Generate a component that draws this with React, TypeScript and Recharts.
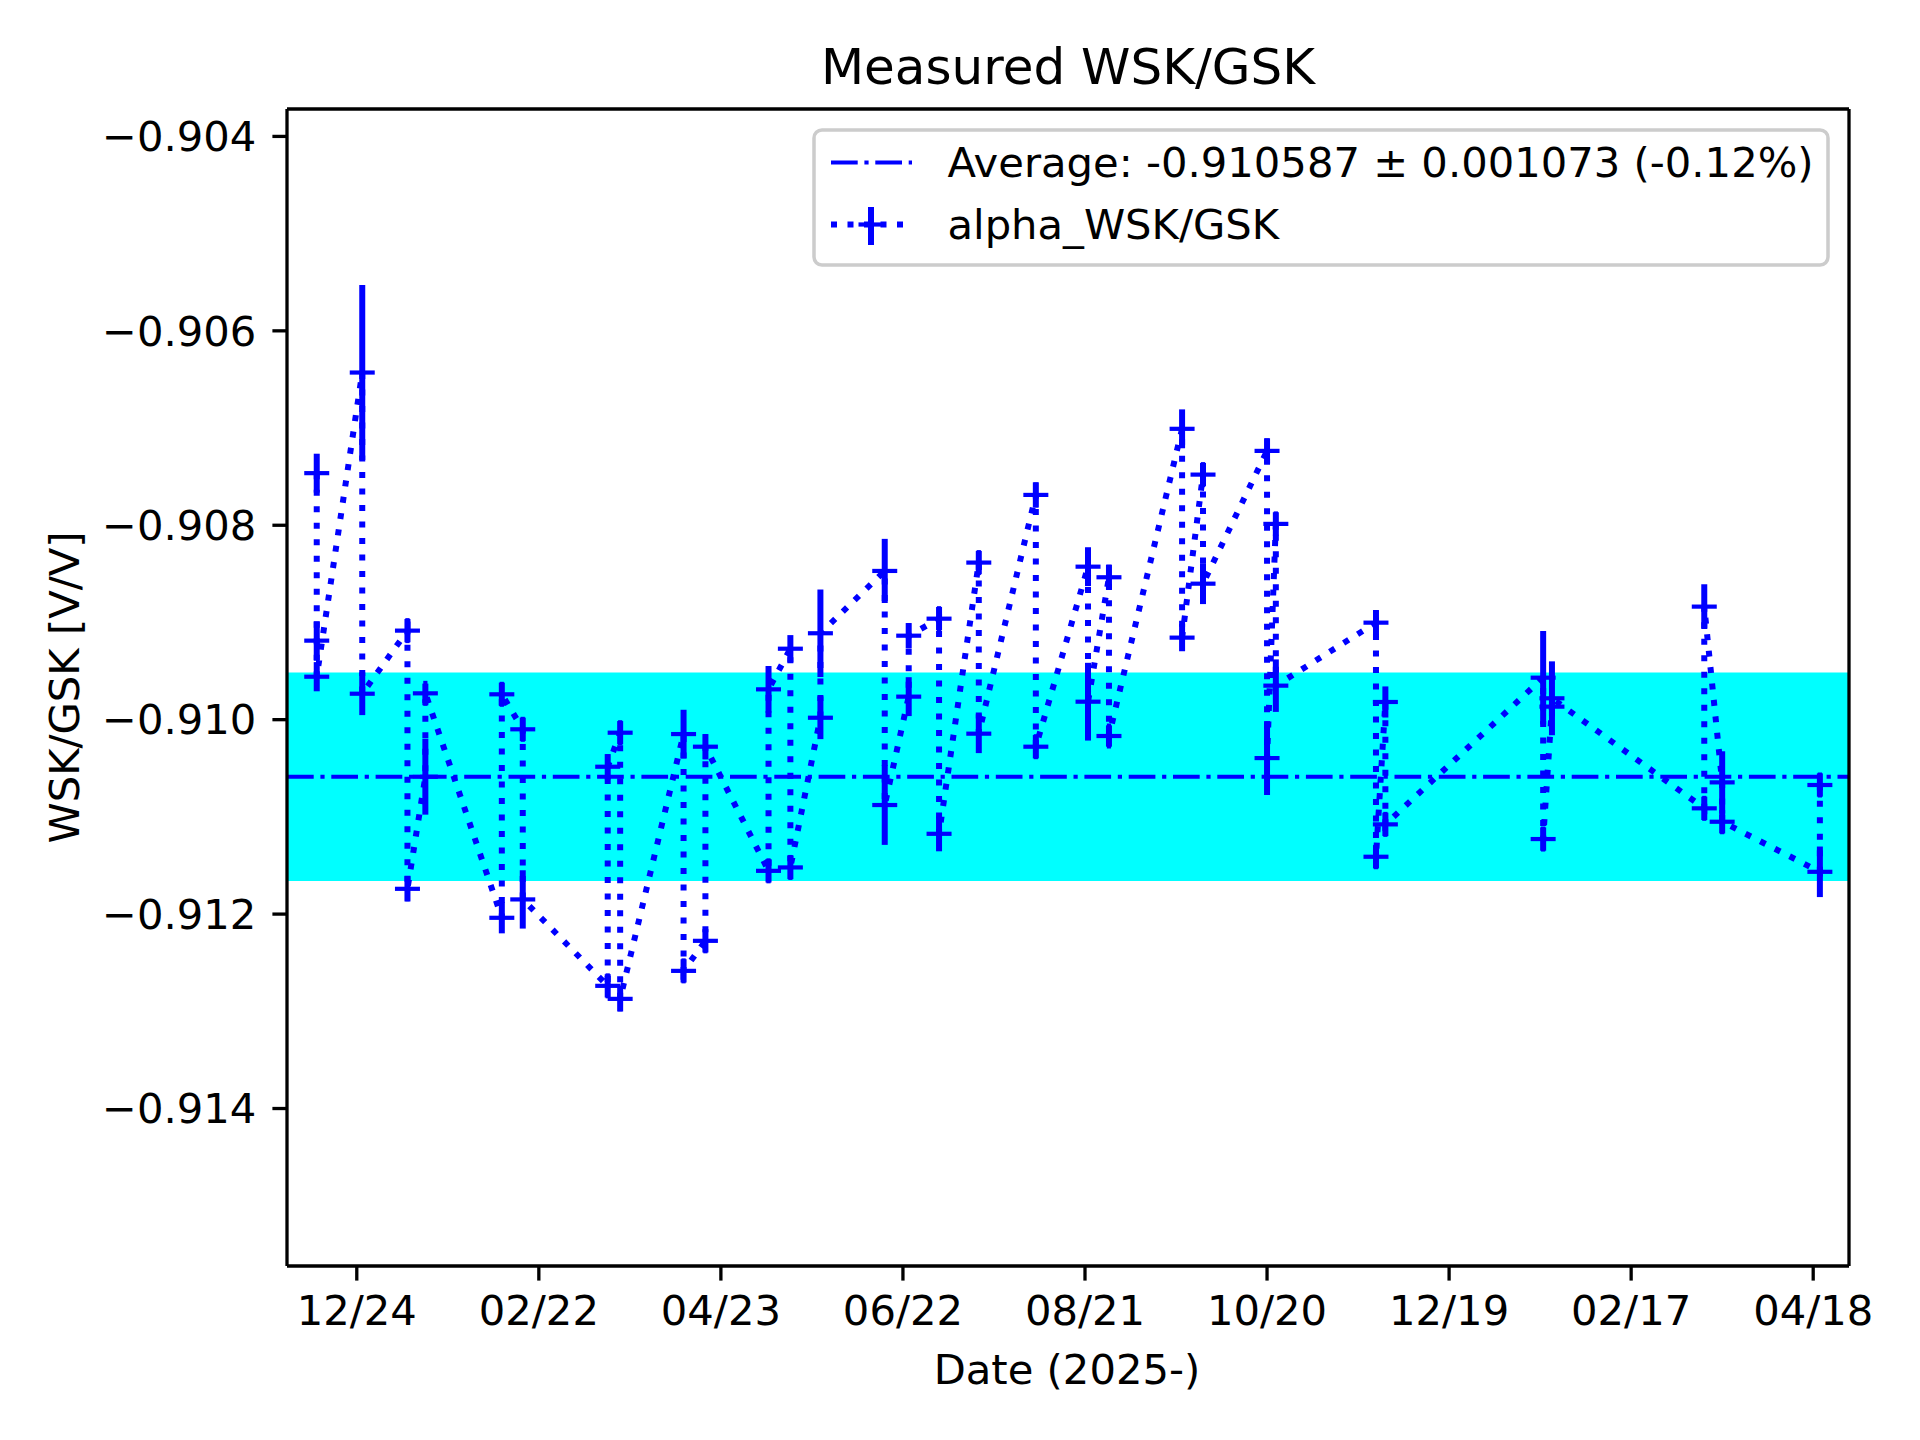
import React from "react";
import {
  ComposedChart,
  ErrorBar,
  Line,
  ReferenceArea,
  ReferenceLine,
  XAxis,
  YAxis,
} from "recharts";

// measurement order as plotted (days counted from 12/24)
const measDay = [
  -13.2, -13.2, -13.2, 1.8, 1.8, 16.7, 16.7, 22.6, 22.6, 47.8, 47.8, 54.7, 54.7,
  82.7, 82.7, 86.8, 86.8, 107.7, 107.7, 114.9, 114.9, 135.7, 135.7, 142.9, 142.9,
  152.8, 152.8, 174.0, 174.0, 181.9, 181.9, 191.9, 191.9, 205.0, 205.0, 223.8,
  223.8, 241.0, 241.0, 247.9, 247.9, 272.0, 272.0, 278.9, 278.9, 300.0, 300.0,
  302.9, 302.9, 335.9, 335.9, 339.0, 339.0, 391.0, 391.0, 393.9, 393.9, 444.1,
  444.1, 450.0, 450.0, 482.2, 482.2,
];

const measValue = [
  -0.907464, -0.909187, -0.909558, -0.906429, -0.909733, -0.909084, -0.91174,
  -0.910587, -0.909729, -0.912038, -0.909739, -0.910099, -0.911849, -0.912738,
  -0.910484, -0.910134, -0.912872, -0.910148, -0.912584, -0.912275, -0.910278,
  -0.911555, -0.909688, -0.90927, -0.91152, -0.90998, -0.909111, -0.90847,
  -0.910878, -0.909763, -0.909136, -0.908961, -0.911174, -0.908384, -0.910144,
  -0.907688, -0.910278, -0.908426, -0.909815, -0.908535, -0.910168, -0.907008,
  -0.909156, -0.907479, -0.908601, -0.907235, -0.910395, -0.907986, -0.90965,
  -0.909002, -0.91141, -0.909818, -0.911077, -0.909568, -0.911228, -0.909866,
  -0.90978, -0.910912, -0.908837, -0.910645, -0.91105, -0.911565, -0.910672,
];

const measError = [
  0.0002, 0.0002, 0.00015, 0.0009, 0.00022, 0.00012, 0.00013, 0.00039, 0.0001,
  0.00016, 0.00012, 0.00012, 0.0003, 0.00012, 0.00013, 0.00012, 0.00013, 0.00025,
  0.00012, 0.00012, 0.00013, 0.00012, 0.00024, 0.00014, 0.00012, 0.00022, 0.00045,
  0.00033, 0.00041, 0.0002, 0.00013, 0.00012, 0.00018, 0.00012, 0.0002, 0.00013,
  0.00012, 0.0002, 0.0004, 0.00013, 0.00011, 0.0002, 0.00014, 0.00012, 0.00021,
  0.00013, 0.00038, 0.00012, 0.00027, 0.00013, 0.00012, 0.00016, 0.00012, 0.00048,
  0.00012, 0.0001, 0.00038, 0.00012, 0.00023, 0.00032, 0.00012, 0.00026, 0.00012,
];

const AVERAGE = -0.910587;
const STD = 0.001073;

const tickDays = [0, 60, 120, 180, 240, 300, 360, 420, 480];
const tickLabels = ["12/24", "02/22", "04/23", "06/22", "08/21", "10/20", "12/19", "02/17", "04/18"];
const yTicks = [-0.914, -0.912, -0.91, -0.908, -0.906, -0.904];

const X_DOMAIN: [number, number] = [-23, 491.8];
const Y_DOMAIN: [number, number] = [-0.91562, -0.903718];

const BLUE = "#0000ff";
const FONT = "DejaVu Sans";
const FS = 41.7;

const data = measDay.map((day, i) => ({ day, val: measValue[i], err: measError[i] }));

const PlusDot = (props: any) => {
  const { cx, cy, index } = props;
  if (cx == null || cy == null) return <g key={`d${index}`} />;
  return (
    <g key={`d${index}`}>
      <line x1={cx - 12.5} x2={cx + 12.5} y1={cy} y2={cy} stroke={BLUE} strokeWidth={4.2} strokeDasharray="none" />
      <line x1={cx} x2={cx} y1={cy - 12.5} y2={cy + 12.5} stroke={BLUE} strokeWidth={4.2} strokeDasharray="none" />
    </g>
  );
};

const tickStyle = { fontFamily: FONT, fontSize: FS, fill: "#000" };
const axisStroke = { stroke: "#000", strokeWidth: 3.3 };

function Overlay() {
  return (
    <svg
      width={1920}
      height={1440}
      style={{ position: "absolute", left: 0, top: 0, pointerEvents: "none" }}
    >
      <text x={1068} y={83.5} textAnchor="middle" fontFamily={FONT} fontSize={50}>
        Measured WSK/GSK
      </text>
      <text x={1067} y={1383.5} textAnchor="middle" fontFamily={FONT} fontSize={FS}>
        Date (2025-)
      </text>
      <text
        x={0}
        y={0}
        transform="translate(79 687.5) rotate(-90)"
        textAnchor="middle"
        fontFamily={FONT}
        fontSize={FS}
      >
        WSK/GSK [V/V]
      </text>

      <rect x={814} y={130} width={1014} height={135} rx={8} fill="#fff" fillOpacity={0.8} stroke="#cccccc" strokeWidth={3.5} />
      <line x1={831} x2={912} y1={162.5} y2={162.5} stroke={BLUE} strokeWidth={4.2} strokeDasharray="26.7 6.7 4.2 6.7" />
      <text x={947.5} y={176.5} fontFamily={FONT} fontSize={FS}>
        Average: -0.910587 ± 0.001073 (-0.12%)
      </text>
      <line x1={831} x2={912} y1={224.5} y2={224.5} stroke={BLUE} strokeWidth={6} strokeDasharray="6 10.5" />
      <line x1={871} x2={871} y1={207} y2={245} stroke={BLUE} strokeWidth={6} />
      <line x1={858.5} x2={883.5} y1={224.5} y2={224.5} stroke={BLUE} strokeWidth={4.2} />
      <text x={947.5} y={238.5} fontFamily={FONT} fontSize={FS}>
        alpha_WSK/GSK
      </text>
    </svg>
  );
}

export default function App() {
  return (
    <div style={{ position: "relative", width: 1920, height: 1440, background: "#fff" }}>
      <style>{"body{margin:0}"}</style>
      <ComposedChart
        width={1920}
        height={1440}
        data={data}
        margin={{ top: 109, right: 71, bottom: 0, left: 0 }}
      >
        <XAxis
          dataKey="day"
          type="number"
          domain={X_DOMAIN}
          allowDataOverflow
          ticks={tickDays}
          interval={0}
          tickFormatter={(v: number) => tickLabels[tickDays.indexOf(v)] ?? ""}
          height={174}
          tickSize={14.6}
          tickMargin={14.4}
          tick={tickStyle}
          tickLine={axisStroke}
          axisLine={axisStroke}
        />
        <YAxis
          type="number"
          domain={Y_DOMAIN}
          allowDataOverflow
          ticks={yTicks}
          interval={0}
          tickFormatter={(v: number) => "\u2212" + Math.abs(v).toFixed(3)}
          width={287}
          tickSize={14.6}
          tickMargin={16}
          tick={tickStyle}
          tickLine={axisStroke}
          axisLine={axisStroke}
        />
        <ReferenceArea
          y1={AVERAGE - STD}
          y2={AVERAGE + STD}
          fill="#00ffff"
          fillOpacity={1}
          stroke="none"
        />
        <ReferenceLine
          y={AVERAGE}
          stroke={BLUE}
          strokeWidth={4.2}
          strokeDasharray="26.7 6.7 4.2 6.7"
        />
        <Line
          dataKey="val"
          type="linear"
          stroke={BLUE}
          strokeWidth={6}
          strokeDasharray="6 10.5"
          dot={PlusDot}
          activeDot={false}
          isAnimationActive={false}
        >
          <ErrorBar dataKey="err" width={0} stroke={BLUE} strokeWidth={6} direction="y" isAnimationActive={false} />
        </Line>
        <ReferenceLine y={Y_DOMAIN[1]} stroke="#000" strokeWidth={3.3} />
        <ReferenceLine x={X_DOMAIN[1]} stroke="#000" strokeWidth={3.3} />
      </ComposedChart>
      <Overlay />
    </div>
  );
}
